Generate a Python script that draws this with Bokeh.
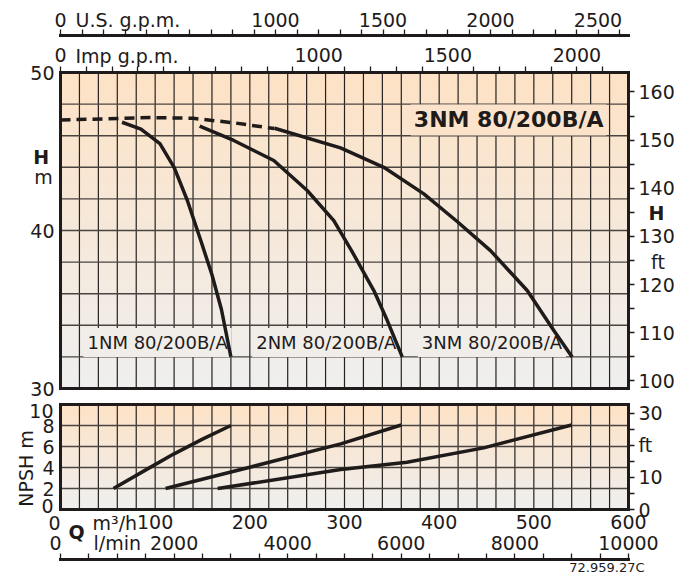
import numpy as np
from bokeh.plotting import figure
from bokeh.models import Range1d, LinearAxis, FixedTicker, Label
from bokeh.embed import file_html
from bokeh.resources import INLINE

# ---------------- data ----------------
# H-Q curves (Q in m3/h, H in m)
q_dash = [0, 50, 95, 140, 185, 226]
h_dash = [47.0, 47.07, 47.15, 47.1, 46.8, 46.45]

q_1nm = [65, 85, 105, 120, 134, 148, 160, 170, 180]
h_1nm = [46.85, 46.42, 45.5, 44.0, 41.9, 39.4, 37.2, 35.0, 32.0]

q_2nm = [147, 183, 225.3, 260.6, 288.7, 307.4, 331, 345.2, 361]
h_2nm = [46.6, 45.7, 44.43, 42.53, 40.63, 38.73, 36.2, 34.3, 32.0]

q_3nm = [226.1, 295.8, 341.5, 383.8, 419.0, 454.2, 493.0, 521.1, 540.5]
h_3nm = [46.47, 45.23, 44.0, 42.32, 40.57, 38.73, 36.2, 33.67, 32.0]

# NPSH curves (m)
q_n1 = [56, 92, 120, 150, 180]
n_n1 = [2.0, 3.87, 5.3, 6.7, 8.0]
q_n2 = [111, 200, 296, 360]
n_n2 = [2.0, 4.03, 6.25, 8.05]
q_n3 = [166, 296, 366, 447, 540]
n_n3 = [2.0, 3.8, 4.5, 5.87, 8.05]

curve_names = ["1NM 80/200B/A", "2NM 80/200B/A", "3NM 80/200B/A"]
title_text = "3NM 80/200B/A"
drawing_code = "72.959.27C"

# axis ticks / labels
h_ticks = [30, 40, 50]
h_ft_ticks = list(range(100, 161, 5))
npsh_ticks = [0, 2, 4, 6, 8, 10]
npsh_ft_ticks = list(range(0, 31, 5))
q_ticks = [0, 100, 200, 300, 400, 500, 600]
lmin_label_ticks = [0, 2000, 4000, 6000, 8000, 10000]
lmin_ticks = list(range(0, 10001, 500))
us_ticks = list(range(0, 2601, 100))
us_labeled = [0, 1000, 1500, 2000, 2500]
imp_ticks = list(range(0, 2101, 100))
imp_labeled = [0, 1000, 1500, 2000]
q_grid = list(range(0, 601, 20))
h_grid = list(range(30, 51, 2))
n_grid = list(range(0, 11, 2))

# unit conversions
US = 4.40287        # US gpm per m3/h
IMP = 3.66615       # Imp gpm per m3/h
LMIN = 1000.0 / 60  # l/min per m3/h
FT = 3.28084        # ft per m

# ---------------- layout (page pixels -> data) ----------------
W, H = 690, 575
PX_Q = 568 / 600.0   # px per m3/h
PX_H = 316 / 20.0    # px per m head
PX_N = 105 / 10.0    # px per m NPSH
X0, YH0, YN0 = 60, 388, 509


def qx(px):
    return (px - X0) / PX_Q


def hy(py):
    return 30 + (YH0 - py) / PX_H


def ny(py):
    return (YN0 - py) / PX_N


# ---------------- style ----------------
FONT = "DejaVu Sans"
FS = "19px"
INK = "#1e1b1a"
TOP_RGB = np.array([253, 226, 197])
BOT_RGB = np.array([239, 239, 239])


def grad_color(t):
    c = BOT_RGB + (TOP_RGB - BOT_RGB) * t
    return "#%02x%02x%02x" % tuple(int(round(v)) for v in c)


p = figure(width=W, height=H, x_range=Range1d(qx(0), qx(W)), y_range=Range1d(hy(H), hy(0)),
           x_axis_type=None, y_axis_type=None, output_backend="svg", toolbar_location=None,
           min_border=0, outline_line_color=None)
p.background_fill_color = "white"
p.border_fill_color = "white"
p.extra_x_ranges = {"us": Range1d(qx(0) * US, qx(W) * US),
                    "imp": Range1d(qx(0) * IMP, qx(W) * IMP),
                    "lmin": Range1d(qx(0) * LMIN, qx(W) * LMIN)}
p.extra_y_ranges = {"ft": Range1d(hy(H) * FT, hy(0) * FT),
                    "npsh": Range1d(ny(H), ny(0)),
                    "nft": Range1d(ny(H) * FT, ny(0) * FT)}


def gradient(y0, y1, yr="default", n=80):
    ys = np.linspace(y0, y1, n + 1)
    cols = [grad_color((i + 0.5) / n) for i in range(n)]
    p.quad(left=0, right=600, bottom=ys[:-1], top=ys[1:], fill_color=cols,
           line_color=cols, line_width=1, level="image", y_range_name=yr)


def grid_lines(xt, yt, y0, y1, yr="default"):
    p.segment(x0=xt, y0=[y0] * len(xt), x1=xt, y1=[y1] * len(xt), line_color="#262220",
              line_width=1.2, level="image", y_range_name=yr)
    p.segment(x0=[0] * len(yt), y0=yt, x1=[600] * len(yt), y1=yt, line_color="#4a4440",
              line_width=1.4, level="image", y_range_name=yr)


def axis(side, loc, ticks, labels=(), overrides=None, xr="default", yr="default",
         bounds="auto", line=True, tick_out=0, tick_in=0, standoff=0, size=FS):
    over = {t: (str(t) if t in labels else "") for t in ticks}
    if overrides:
        over.update(overrides)
    ax = LinearAxis(fixed_location=loc, ticker=FixedTicker(ticks=ticks), bounds=bounds,
                    x_range_name=xr, y_range_name=yr, major_label_overrides=over,
                    axis_line_color=INK if line else None, axis_line_width=3,
                    axis_line_cap="square", major_tick_out=tick_out, major_tick_in=tick_in,
                    major_tick_line_color=INK if (tick_out or tick_in) else None,
                    major_tick_line_width=1.3, minor_tick_line_color=None,
                    major_label_standoff=standoff, major_label_text_font=FONT,
                    major_label_text_font_size=size, major_label_text_color=INK)
    p.add_layout(ax, side)


def text(x, y, s, align="left", yr="default", size=FS, bold=False, **kw):
    """Text centred vertically (cap-height centre) on y."""
    p.add_layout(Label(x=x, y=y, text=s, text_align=align, text_baseline="middle",
                       y_range_name=yr, text_font=FONT, text_font_size=size,
                       text_font_style="bold" if bold else "normal", text_color=INK, **kw))


# ---------------- upper chart ----------------
gradient(30, 50)
grid_lines(q_grid, h_grid, 30, 50)

p.line(q_dash, h_dash, line_color=INK, line_width=3.5, line_dash="10 6")
for q, h in [(q_1nm, h_1nm), (q_2nm, h_2nm), (q_3nm, h_3nm)]:
    p.line(q, h, line_color=INK, line_width=3.5, line_join="round")

# frame + axes
axis("above", hy(35), us_ticks, us_labeled, xr="us", bounds=(0, 600 * US),
     tick_out=6, standoff=3)
axis("above", 50, imp_ticks, imp_labeled, xr="imp", bounds=(0, 600 * IMP),
     tick_out=6, standoff=5)
axis("left", 0, h_ticks, h_ticks, bounds=(30, 50), standoff=6)
axis("right", 600, h_ft_ticks, [t for t in h_ft_ticks if t % 10 == 0], yr="ft",
     bounds=(30 * FT, 50 * FT), tick_out=6, standoff=4)
axis("below", 30, q_ticks, (), bounds=(0, 600))

lab_bg = grad_color(0.15)
for name, xq in zip(curve_names, [qx(83), qx(251.7), qx(417.3)]):
    p.add_layout(Label(x=xq, y=hy(342), text=name, text_font=FONT, text_font_size="18px",
                       text_color=INK, text_baseline="middle", text_align="left",
                       background_fill_color=lab_bg, padding=4, level="underlay"))
p.add_layout(Label(x=qx(606), y=47.0, text=title_text, text_font=FONT, text_font_size="22px",
                   text_font_style="bold", text_color=INK, text_baseline="middle",
                   text_align="right", background_fill_color=grad_color(0.85),
                   padding=3, level="underlay"))

text(qx(75), hy(19.5), "U.S. g.p.m.")
text(qx(75), hy(55), "Imp g.p.m.")
text(qx(40.8), hy(156.5), "H", align="center", bold=True)
text(qx(43), hy(176.4), "m", align="center")
text(qx(656), hy(212.5), "H", align="center", bold=True)
text(qx(657.5), hy(261), "ft", align="center")

# ---------------- lower chart ----------------
gradient(0, 10, yr="npsh")
grid_lines(q_grid, n_grid, 0, 10, yr="npsh")

for q, n in [(q_n1, n_n1), (q_n2, n_n2), (q_n3, n_n3)]:
    p.line(q, n, line_color=INK, line_width=3.5, line_join="round", y_range_name="npsh")

axis("above", 10, q_ticks, (), yr="npsh", bounds=(0, 600))
axis("left", 0, npsh_ticks, [2, 4, 6, 8], yr="npsh", bounds=(0, 10), standoff=6)
axis("right", 600, npsh_ft_ticks, [0, 10, 30], overrides={20: "ft"}, yr="nft",
     bounds=(0, 10 * FT), tick_out=6, standoff=4)
axis("below", 0, q_ticks, q_ticks[1:], yr="npsh", bounds=(0, 600), standoff=5)
axis("below", 0, lmin_label_ticks, lmin_label_ticks[1:], xr="lmin", yr="npsh", line=False,
     standoff=26)
axis("below", ny(559), lmin_ticks, (), xr="lmin", yr="npsh", bounds=(0, 600 * LMIN),
     tick_in=6)

text(qx(53), ny(410), "10", align="right", yr="npsh")
text(qx(53), ny(505), "0", align="right", yr="npsh")
text(qx(54), ny(522), "0", align="center", yr="npsh")
text(qx(55), ny(542), "0", align="center", yr="npsh")
text(qx(25.5), ny(468), "NPSH m", align="center", yr="npsh", angle=np.pi / 2)
text(qx(76), ny(531), "Q", align="center", yr="npsh", bold=True)
text(qx(92), ny(522), "m³/h", yr="npsh")
text(qx(93), ny(542), "l/min", yr="npsh")
text(qx(644), ny(566.5), drawing_code, align="right", yr="npsh", size="13px")

open("out.html", "w").write(file_html(p, INLINE))
